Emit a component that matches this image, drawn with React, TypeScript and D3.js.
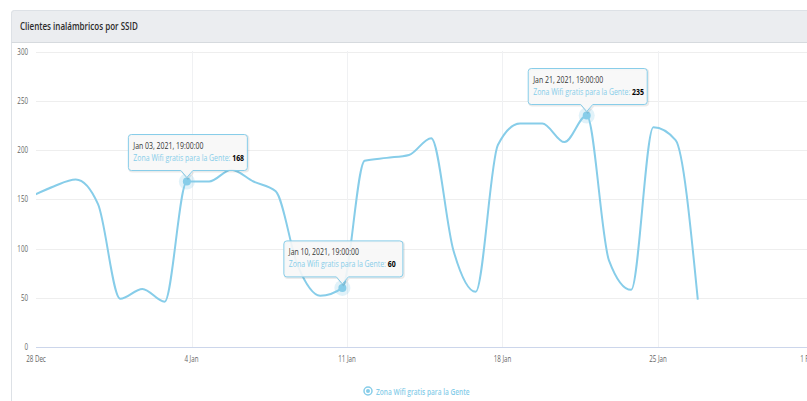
import React from "react";
import * as d3 from "d3";

// ---- data ----
const seriesName = "Zona Wifi gratis para la Gente";
const chartTitle = "Clientes inalámbricos por SSID";
const startDay = [2020, 11, 27, 19]; // first sample: Dec 27 2020, 19:00
const values = [
  153, 163, 170, 145, 49, 59, 46, 168, 168, 180, 168, 158, 82, 52, 60, 189,
  192, 195, 212, 98, 56, 205, 227, 227, 208, 235, 88, 58, 223, 210, 48,
];
const tooltipIdx = [7, 14, 25];
const yTicks = [0, 50, 100, 150, 200, 250, 300];
const xTicks = [
  "2020-12-28",
  "2021-01-04",
  "2021-01-11",
  "2021-01-18",
  "2021-01-25",
  "2021-02-01",
];

const W = 807;
const H = 401;
const SX = 0.73;
const LINE = "#87cde9";
const FONT = "'Open Sans', sans-serif";

const parseDay = (s: string) => {
  const [y, m, d] = s.split("-").map(Number);
  return new Date(y, m - 1, d);
};

const points = values.map((v, i) => ({
  date: new Date(startDay[0], startDay[1], startDay[2] + i, startDay[3]),
  value: v,
}));

function T(props: any) {
  const { x, y, anchor = "start", size = 9, weight = 400, fill = "#333", children } = props;
  return (
    <text
      transform={`translate(${x},${y}) scale(${SX},1)`}
      textAnchor={anchor}
      fontSize={size}
      fontWeight={weight}
      fill={fill}
      fontFamily={FONT}
    >
      {children}
    </text>
  );
}

export default function App() {
  const x = d3
    .scaleTime()
    .domain([parseDay(xTicks[0]), parseDay(xTicks[xTicks.length - 1])])
    .range([36, 813.5]);
  const y = d3.scaleLinear().domain([0, 300]).range([347, 51.5]);

  const line = d3
    .line<{ date: Date; value: number }>()
    .x((d) => x(d.date))
    .y((d) => y(d.value))
    .curve(d3.curveMonotoneX);

  const fmtTick = d3.timeFormat("%-d %b");
  const fmtTip = d3.timeFormat("%b %d, %Y, %H:%M:%S");

  return (
    <svg
      width={W}
      height={H}
      style={{ position: "absolute", left: 0, top: 0, background: "#fff" }}
    >
      <defs>
        <clipPath id="plot">
          <rect x={36} y={40} width={W} height={310} />
        </clipPath>
      </defs>
      {/* panel */}
      <rect x={11.5} y={10.5} width={830} height={420} rx={3} fill="#fff" stroke="#dde1e6" />
      <path d={`M11.5,42.5 V13.5 Q11.5,10.5 14.5,10.5 H850 V42.5 Z`} fill="#ebedf0" stroke="#dde1e6" />
      <line x1={11.5} x2={850} y1={42.5} y2={42.5} stroke="#d6dade" />
      <T x={20} y={30} size={11} weight={600} fill="#2b2b2b">
        {chartTitle}
      </T>

      {/* grid */}
      {yTicks.map((t) => (
        <g key={t}>
          {t > 0 && (
            <line x1={36} x2={W} y1={Math.round(y(t)) + 0.5} y2={Math.round(y(t)) + 0.5} stroke="#eeeeee" />
          )}
          <T x={28} y={y(t) + 3} anchor="end" size={8.5} fill="#666">
            {t}
          </T>
        </g>
      ))}
      {xTicks.map((s) => {
        const d = parseDay(s);
        const xx = Math.round(x(d)) + 0.5;
        return (
          <g key={s}>
            {xx > 40 && <line x1={xx} x2={xx} y1={51} y2={347} stroke="#f0f1f3" />}
            <T x={Math.min(x(d), 808)} y={362} anchor="middle" size={8.5} fill="#666">
              {fmtTick(d)}
            </T>
          </g>
        );
      })}
      <line x1={36} x2={W} y1={347.5} y2={347.5} stroke="#ccd6eb" />

      {/* series */}
      <path
        d={line(points) || ""}
        fill="none"
        stroke={LINE}
        strokeWidth={2}
        clipPath="url(#plot)"
        strokeLinejoin="round"
      />

      {/* tooltips */}
      {tooltipIdx.map((i) => {
        const p = points[i];
        const px = x(p.date);
        const py = y(p.value);
        const bw = 119;
        const bh = 36;
        const left = px - bw / 2 + 1;
        const top = py - 11 - bh;
        const bottom = top + bh;
        const r = 3;
        const right = left + bw;
        const path = `M${left + r},${top} H${right - r} Q${right},${top} ${right},${top + r} V${bottom - r} Q${right},${bottom} ${right - r},${bottom} H${px + 6} L${px},${py - 4} L${px - 6},${bottom} H${left + r} Q${left},${bottom} ${left},${bottom - r} V${top + r} Q${left},${top} ${left + r},${top} Z`;
        return (
          <g key={i}>
            <circle cx={px} cy={py} r={8} fill={LINE} opacity={0.25} />
            <circle cx={px} cy={py} r={4} fill={LINE} />
            <path d={path} transform="translate(1,1)" fill="none" stroke="#000" strokeOpacity={0.08} strokeWidth={2} />
            <path d={path} fill="#f7f7f7" fillOpacity={0.9} stroke={LINE} strokeWidth={1} />
            <T x={left + 5} y={top + 14} size={9.5} fill="#333">
              {fmtTip(p.date)}
            </T>
            <T x={left + 5} y={top + 26} size={9.5} fill={LINE}>
              {seriesName}:{" "}
              <tspan fill="#000" fontWeight={700}>
                {p.value}
              </tspan>
            </T>
          </g>
        );
      })}

      {/* legend */}
      <circle cx={368} cy={391} r={4} fill="none" stroke={LINE} strokeWidth={1.5} />
      <circle cx={368} cy={391} r={2} fill={LINE} />
      <T x={376} y={394.5} size={9} weight={600} fill={LINE}>
        {seriesName}
      </T>
    </svg>
  );
}
